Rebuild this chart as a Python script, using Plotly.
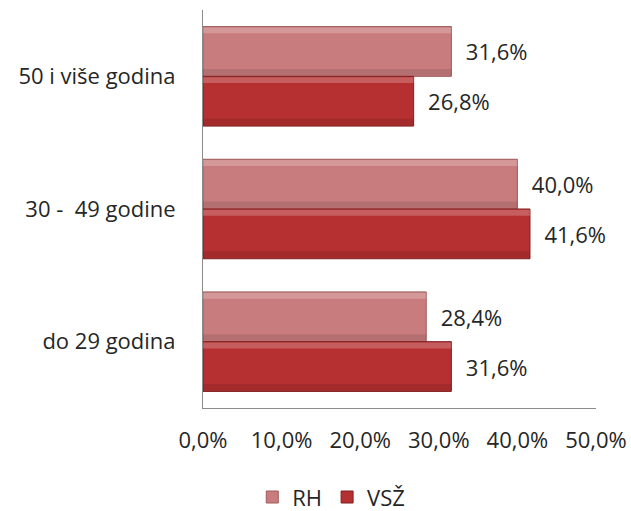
import plotly.graph_objects as go

categories = ["50 i više godina", "30 -  49 godine", "do 29 godina"]
rh_values = [31.6, 40.0, 28.4]
vsz_values = [26.8, 41.6, 31.6]
series_names = ["RH", "VSŽ"]
tick_vals = [0, 10, 20, 30, 40, 50]
tick_text = ["0,0%", "10,0%", "20,0%", "30,0%", "40,0%", "50,0%"]

FONT = "'Open Sans', Lato, sans-serif"
FS = 22
TXT = "#262626"
colors = ["#C97C7D", "#B73031"]
line_colors = ["#9E5A5B", "#7F1F20"]
BW = 0.375
offsets = [-BW, 0.0]

fig = go.Figure()
for name, vals, c, lc, off in zip(series_names, [rh_values, vsz_values], colors, line_colors, offsets):
    fig.add_trace(go.Bar(
        y=categories, x=vals, name=name, orientation="h",
        width=BW, offset=off,
        marker=dict(color=c, line=dict(color=lc, width=1)),
        text=[("%.1f%%" % v).replace(".", ",") for v in vals],
        texttemplate="  %{text}",
        textposition="outside",
        textfont=dict(family=FONT, size=FS, color=TXT),
        cliponaxis=False,
    ))
    # soft highlight near the top and shade near the bottom of each bar
    fig.add_trace(go.Bar(
        y=categories, x=vals, orientation="h", showlegend=False, hoverinfo="skip",
        width=0.045, offset=off + 0.006,
        marker=dict(color="rgba(255,255,255,0.22)", line=dict(width=0)),
    ))
    fig.add_trace(go.Bar(
        y=categories, x=vals, orientation="h", showlegend=False, hoverinfo="skip",
        width=0.05, offset=off + BW - 0.056,
        marker=dict(color="rgba(0,0,0,0.10)", line=dict(width=0)),
    ))

fig.update_layout(
    width=631, height=511,
    margin=dict(l=203, r=35, t=10, b=103),
    paper_bgcolor="white", plot_bgcolor="white",
    barmode="overlay",
    font=dict(family=FONT, size=FS, color=TXT),
    showlegend=True,
    legend=dict(orientation="h", x=0.525, xanchor="center", xref="container",
                y=0.027, yanchor="middle", yref="container",
                font=dict(family=FONT, size=FS, color=TXT),
                itemwidth=30, traceorder="normal"),
    xaxis=dict(range=[0, 50], tickvals=tick_vals, ticktext=tick_text,
               showgrid=False, zeroline=False, showline=True, linecolor="#8C8C8C",
               linewidth=1, ticks="", ticklabelstandoff=13, automargin=False,
               tickfont=dict(family=FONT, size=FS, color=TXT)),
    yaxis=dict(categoryorder="array", categoryarray=categories, autorange="reversed",
               showgrid=False, zeroline=False, showline=True, linecolor="#8C8C8C",
               linewidth=1, ticks="", ticklabelstandoff=22, automargin=False,
               tickfont=dict(family=FONT, size=FS, color=TXT)),
)

fig.write_html("out.html", config={"displayModeBar": False},
               post_script="document.body.style.margin='0';document.body.style.overflow='hidden';")
